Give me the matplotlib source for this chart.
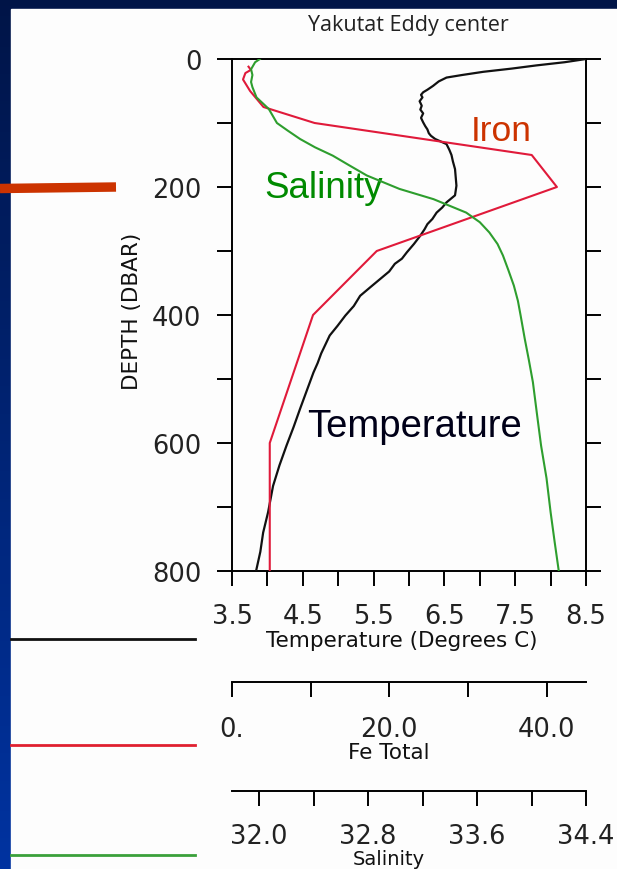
import numpy as np
import matplotlib
matplotlib.use("Agg")
import matplotlib.pyplot as plt
from matplotlib.lines import Line2D
from matplotlib.patches import Rectangle

# ---------------- data ----------------
temp_depth = [0, 5, 10, 15, 20, 25, 29, 35, 42, 48, 52, 56, 60, 66, 73, 79, 85, 92,
              99, 105, 110, 116, 120, 125, 133, 142, 150, 160, 172, 185, 198, 213,
              224, 232, 240, 250, 258, 266, 276, 289, 302, 312, 320, 332, 344, 356,
              370, 386, 401, 417, 432, 446, 460, 475, 490, 520, 547, 575, 604, 635,
              667, 708, 740, 770, 800]
temp_vals = [8.50, 8.20, 7.80, 7.45, 7.05, 6.75, 6.53, 6.42, 6.34, 6.26, 6.20, 6.17,
             6.19, 6.15, 6.18, 6.16, 6.20, 6.17, 6.20, 6.23, 6.26, 6.28, 6.31, 6.37,
             6.53, 6.57, 6.60, 6.62, 6.65, 6.66, 6.67, 6.65, 6.53, 6.47, 6.39, 6.33,
             6.26, 6.22, 6.16, 6.07, 5.97, 5.90, 5.80, 5.72, 5.59, 5.46, 5.31, 5.22,
             5.10, 4.99, 4.88, 4.82, 4.76, 4.71, 4.65, 4.55, 4.46, 4.37, 4.27, 4.17,
             4.08, 4.01, 3.94, 3.90, 3.84]

fe_depth = [12, 17, 22, 32, 50, 75, 100, 150, 200, 300, 400, 600, 800]
fe_vals = [2.1, 2.4, 1.7, 1.4, 2.3, 4.0, 10.5, 38.1, 41.3, 18.4, 10.3, 4.8, 4.8]

sal_depth = [0, 5, 16, 25, 36, 44, 60, 78, 100, 112, 125, 138, 151, 166, 182, 203,
             219, 240, 255, 271, 289, 307, 330, 354, 378, 401, 437, 470, 505, 555,
             604, 655, 708, 755, 800]
sal_vals = [32.005, 31.97, 31.94, 31.95, 31.94, 31.95, 31.98, 32.07, 32.13, 32.21,
            32.30, 32.41, 32.54, 32.66, 32.79, 33.03, 33.28, 33.52, 33.62, 33.69,
            33.75, 33.79, 33.83, 33.87, 33.90, 33.92, 33.95, 33.98, 34.01, 34.04,
            34.07, 34.11, 34.14, 34.17, 34.20]

depth_ticks = [0, 200, 400, 600, 800]
temp_ticks = [3.5, 4.5, 5.5, 6.5, 7.5, 8.5]
fe_ticks = [0, 10, 20, 30, 40]
fe_ticklabels = ["0.", "", "20.0", "", "40.0"]
sal_ticks = [32.0, 32.4, 32.8, 33.2, 33.6, 34.0, 34.4]
sal_ticklabels = ["32.0", "", "32.8", "", "33.6", "", "34.4"]

# ---------------- figure ----------------
W, H = 617, 870
fig = plt.figure(figsize=(W / 100, H / 100), dpi=100)

def fx(px):
    return px / W

def fy(py):
    return 1 - py / H

# background gradient
bg = fig.add_axes([0, 0, 1, 1])
bg.set_axis_off()
grad = np.linspace(0, 1, 256).reshape(-1, 1)
top_c = np.array([0.0, 0.08, 0.28])
bot_c = np.array([0.0, 0.20, 0.63])
img = top_c[None, None, :] * (1 - grad[:, :, None]) + bot_c[None, None, :] * grad[:, :, None]
bg.imshow(img, aspect="auto", extent=[0, 1, 0, 1], origin="upper")
bg.set_xlim(0, 1)
bg.set_ylim(0, 1)
bg.add_patch(Rectangle((fx(11), 0), 1 - fx(11), fy(10), color="#fdfdfd", zorder=2))
# orange marker bar
bg.add_line(Line2D([0, fx(116)], [fy(189.5), fy(188)], color="#cc3300", lw=6.8,
                   solid_capstyle="butt", zorder=3))
# legend-like lines at left
for yy, cc in [(640, "#111111"), (746, "#e02030"), (856, "#3aa03a")]:
    bg.add_line(Line2D([fx(11), fx(195)], [fy(yy), fy(yy)], color=cc, lw=2.0, zorder=3))

ann_font = "Liberation Sans"
ncl_font = "DejaVu Sans"
tick_len = 10.5
lw_ax = 1.4
tick_fs = 18.5
label_fs = 15.5

# ---------------- main axes ----------------
ax = fig.add_axes([fx(232), fy(572), fx(586) - fx(232), fy(60) - fy(572)])
ax.set_facecolor("none")
ax.plot(temp_vals, temp_depth, color="#111111", lw=1.6, zorder=4)
ax.set_xlim(3.5, 8.5)
ax.set_ylim(800, 0)
ax.set_yticks(depth_ticks)
ax.set_yticks([100, 300, 500, 700], minor=True)
ax.set_xticks(temp_ticks)
ax.set_xticks([4.0, 5.0, 6.0, 7.0, 8.0], minor=True)
ax.set_yticklabels([str(d) for d in depth_ticks], fontfamily=ncl_font, fontsize=tick_fs, color="#222222")
ax.set_xticklabels([f"{t:.1f}" for t in temp_ticks], fontfamily=ncl_font, fontsize=tick_fs, color="#222222")
ax.tick_params(which="both", direction="out", length=tick_len, width=lw_ax,
               left=True, right=True, top=True, bottom=True,
               labelleft=True, labelright=False, labeltop=False, labelbottom=True)
ax.tick_params(axis="y", which="major", pad=11.5)
ax.tick_params(axis="x", which="major", pad=12.5)
for s in ax.spines.values():
    s.set_linewidth(lw_ax)
ax.set_xlabel("Temperature (Degrees C)", fontfamily=ncl_font, fontsize=label_fs,
              color="#111111", va="center")
ax.xaxis.set_label_coords(fx(401.5), fy(641), transform=fig.transFigure)
ax.set_ylabel("DEPTH (DBAR)", fontfamily=ncl_font, fontsize=label_fs,
              color="#111111", va="center")
ax.yaxis.set_label_coords(fx(132), fy(311), transform=fig.transFigure)

# iron on its own scale
ax_fe = ax.twiny()
ax_fe.set_xlim(0, 45)
ax_fe.plot(fe_vals, fe_depth, color="#e01a3a", lw=1.5, zorder=4)
ax_fe.set_axis_off()
ax_fe.set_ylim(800, 0)

# salinity on its own scale
ax_s = ax.twiny()
ax_s.set_xlim(31.8, 34.4)
ax_s.plot(sal_vals, sal_depth, color="#2e9e2e", lw=1.5, zorder=4)
ax_s.set_axis_off()
ax_s.set_ylim(800, 0)

# annotations
ax.text(7.30, 111, "Iron", color="#cc3300", fontsize=25.5, fontfamily=ann_font,
        ha="center", va="center")
ax.text(4.80, 200, "Salinity", color="#008a00", fontsize=26.5, fontfamily=ann_font,
        ha="center", va="center")
ax.text(6.08, 573, "Temperature", color="#000018", fontsize=27.5, fontfamily=ann_font,
        ha="center", va="center")

fig.text(fx(408), fy(25), "Yakutat Eddy center", fontfamily="Open Sans", fontsize=15.5,
         ha="center", va="center", color="#222222")

# ---------------- secondary scales ----------------
def scale_axis(ypix, xlim, ticks, labels, title, title_y, title_fs, pad):
    a = fig.add_axes([fx(232), fy(ypix), fx(586) - fx(232), 0.0001])
    a.set_facecolor("none")
    for k in ("left", "right", "top"):
        a.spines[k].set_visible(False)
    a.spines["bottom"].set_linewidth(lw_ax)
    a.set_xlim(*xlim)
    a.set_yticks([])
    a.set_xticks(ticks)
    a.set_xticklabels(labels, fontfamily=ncl_font, fontsize=tick_fs, color="#222222")
    a.tick_params(axis="x", direction="out", length=tick_len, width=lw_ax, pad=pad)
    a.set_xlabel(title, fontfamily=ncl_font, fontsize=title_fs, color="#111111", va="center")
    a.xaxis.set_label_coords(fx(389), fy(title_y), transform=fig.transFigure)
    return a

scale_axis(683, (0, 45), fe_ticks, fe_ticklabels, "Fe Total", 753, label_fs, 14)
scale_axis(792, (31.8, 34.4), sal_ticks, sal_ticklabels, "Salinity", 860, 14, 12.5)

fig.savefig("out.png", dpi=100)
